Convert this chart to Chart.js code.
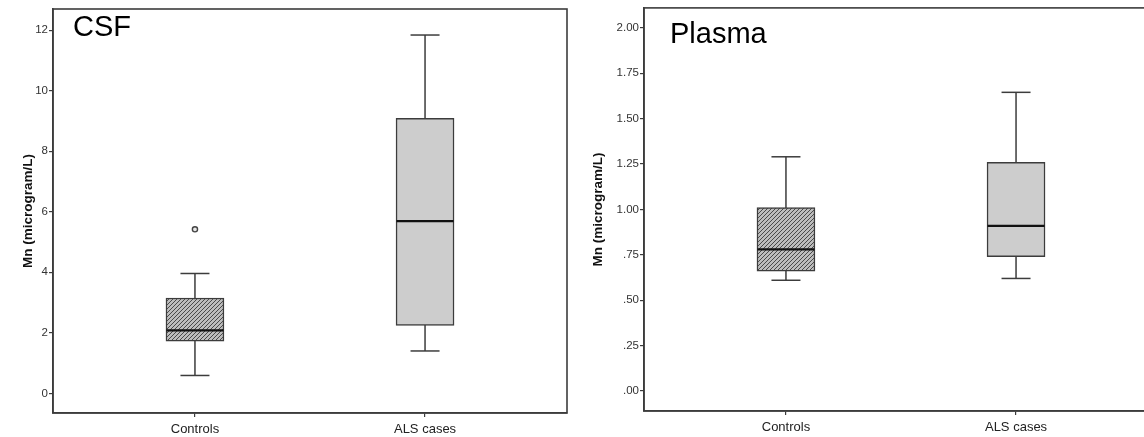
<!DOCTYPE html>
<html>
<head>
<meta charset="utf-8">
<script src="https://cdn.jsdelivr.net/npm/chart.js@4.4.1/dist/chart.umd.min.js"></script>
<style>
  html, body { margin:0; padding:0; background:#fff; overflow:hidden; width:1144px; height:437px; }
  .wrap { position:absolute; top:0; height:437px; }
  #w1 { left:0; width:575px; }
  #w2 { left:580px; width:580px; }
  .panelTitle { position:absolute; font-family:"Liberation Sans", Arial, sans-serif; font-size:29px; color:#000; line-height:29px; white-space:nowrap; }
</style>
</head>
<body>
<div class="wrap" id="w1"><canvas id="c1" width="575" height="437"></canvas></div>
<div class="wrap" id="w2"><canvas id="c2" width="580" height="437"></canvas></div>
<div class="panelTitle" style="left:73px; top:12px;">CSF</div>
<div class="panelTitle" style="left:670px; top:19px;">Plasma</div>
<script>
// ---------- data ----------
const categories = ['Controls', 'ALS cases'];

const csfMin    = [0.59, 1.40];
const csfQ1     = [1.72, 2.24];
const csfMedian = [2.08, 5.69];
const csfQ3     = [3.15, 9.09];
const csfMax    = [3.96, 11.84];
const csfOutliers = [[5.42], []];

const plasmaMin    = [0.61, 0.62];
const plasmaQ1     = [0.66, 0.74];
const plasmaMedian = [0.78, 0.91];
const plasmaQ3     = [1.01, 1.26];
const plasmaMax    = [1.29, 1.645];
const plasmaOutliers = [[], []];

const csfTicks = [0, 2, 4, 6, 8, 10, 12];
const csfTickLabels = ['0', '2', '4', '6', '8', '10', '12'];
const plasmaTicks = [0, 0.25, 0.5, 0.75, 1.0, 1.25, 1.5, 1.75, 2.0];
const plasmaTickLabels = ['.00', '.25', '.50', '.75', '1.00', '1.25', '1.50', '1.75', '2.00'];

const yTitle = 'Mn (microgram/L)';

// ---------- styles ----------
const FONT = '"Liberation Sans", Arial, sans-serif';
const DARK = '#3c3c3c';

function hatchPattern() {
  const c = document.createElement('canvas');
  c.width = 4; c.height = 4;
  const g = c.getContext('2d');
  g.fillStyle = '#bdbdbd';
  g.fillRect(0, 0, 4, 4);
  g.strokeStyle = '#4a4a4a';
  g.lineWidth = 1;
  g.beginPath();
  g.moveTo(-1, 5); g.lineTo(5, -1);
  g.moveTo(-1, 1); g.lineTo(1, -1);
  g.moveTo(3, 5); g.lineTo(5, 3);
  g.stroke();
  return g.createPattern(c, 'repeat');
}
const boxFills = [hatchPattern(), '#cdcdcd'];

const frame = {
  id: 'frame',
  afterDraw(chart) {
    const a = chart.chartArea, ctx = chart.ctx;
    ctx.save();
    ctx.strokeStyle = DARK;
    ctx.lineWidth = 1.6;
    ctx.strokeRect(a.left, a.top, a.right - a.left, a.bottom - a.top);
    ctx.restore();
  }
};

function buildDatasets(mins, q1s, meds, q3s, maxs, outs) {
  const ds = [];
  categories.forEach((_, i) => {
    ds.push({
      type: 'line', order: 5,
      data: [{x: i, y: mins[i]}, {x: i, y: maxs[i]}],
      borderColor: DARK, borderWidth: 1.5, pointRadius: 0, fill: false
    });
  });
  ds.push({
    type: 'bar', order: 4,
    data: categories.map((_, i) => ({x: i, y: [q1s[i], q3s[i]]})),
    backgroundColor: boxFills,
    borderColor: DARK, borderWidth: 1.5, borderSkipped: false,
    barThickness: 58
  });
  ds.push({
    type: 'scatter', order: 2,
    data: categories.flatMap((_, i) => [{x: i, y: mins[i]}, {x: i, y: maxs[i]}]),
    pointStyle: 'line', pointRadius: 14.5, pointBorderWidth: 1.5,
    borderColor: DARK, backgroundColor: DARK
  });
  ds.push({
    type: 'scatter', order: 1,
    data: categories.map((_, i) => ({x: i, y: meds[i]})),
    pointStyle: 'line', pointRadius: 28.5, pointBorderWidth: 2.2,
    borderColor: '#111', backgroundColor: '#111'
  });
  ds.push({
    type: 'scatter', order: 1,
    data: categories.flatMap((_, i) => outs[i].map(v => ({x: i, y: v}))),
    pointStyle: 'circle', pointRadius: 2.6, pointBorderWidth: 1.4,
    borderColor: '#444', backgroundColor: '#e8e8e8'
  });
  return ds;
}

function makeChart(id, datasets, yMin, yMax, ticks, tickLabels, yWidth, xHeight, padding, titlePad) {
  return new Chart(document.getElementById(id), {
    type: 'bar',
    data: { datasets },
    plugins: [frame],
    options: {
      responsive: false,
      animation: false,
      layout: { padding, autoPadding: false },
      plugins: { legend: { display: false }, tooltip: { enabled: false } },
      scales: {
        x: {
          type: 'linear', min: -0.617, max: 1.617, offset: false,
          afterBuildTicks: s => { s.ticks = categories.map((_, i) => ({ value: i })); },
          afterFit: s => { s.height = xHeight; },
          ticks: {
            callback: v => categories[v] ?? '',
            font: { family: FONT, size: 13 }, color: '#222', padding: 5, maxRotation: 0
          },
          grid: { offset: false, drawOnChartArea: false, drawTicks: true, tickLength: 4, color: DARK, lineWidth: 1.2 },
          border: { display: true, color: DARK, width: 1.6 }
        },
        y: {
          type: 'linear', min: yMin, max: yMax,
          afterBuildTicks: s => { s.ticks = ticks.map(v => ({ value: v })); },
          afterFit: s => { s.width = yWidth; },
          ticks: {
            callback: v => { const k = ticks.indexOf(v); return k >= 0 ? tickLabels[k] : ''; },
            font: { family: FONT, size: 11.5 }, color: '#333', padding: 1
          },
          grid: { drawOnChartArea: false, drawTicks: true, tickLength: 4, color: DARK, lineWidth: 1.2 },
          border: { display: true, color: DARK, width: 1.6 },
          title: { display: true, text: yTitle, font: { family: FONT, size: 13.5, weight: 'bold' }, color: '#111', padding: { top: titlePad, bottom: 0 } }
        }
      }
    }
  });
}

makeChart('c1',
  buildDatasets(csfMin, csfQ1, csfMedian, csfQ3, csfMax, csfOutliers),
  -0.65, 12.7, csfTicks, csfTickLabels, 53, 24, { top: 9, right: 8, left: 0, bottom: 0 }, 20);

makeChart('c2',
  buildDatasets(plasmaMin, plasmaQ1, plasmaMedian, plasmaQ3, plasmaMax, plasmaOutliers),
  -0.11, 2.11, plasmaTicks, plasmaTickLabels, 64, 26, { top: 6, right: 2, left: 0, bottom: 0 }, 10);
</script>
</body>
</html>
